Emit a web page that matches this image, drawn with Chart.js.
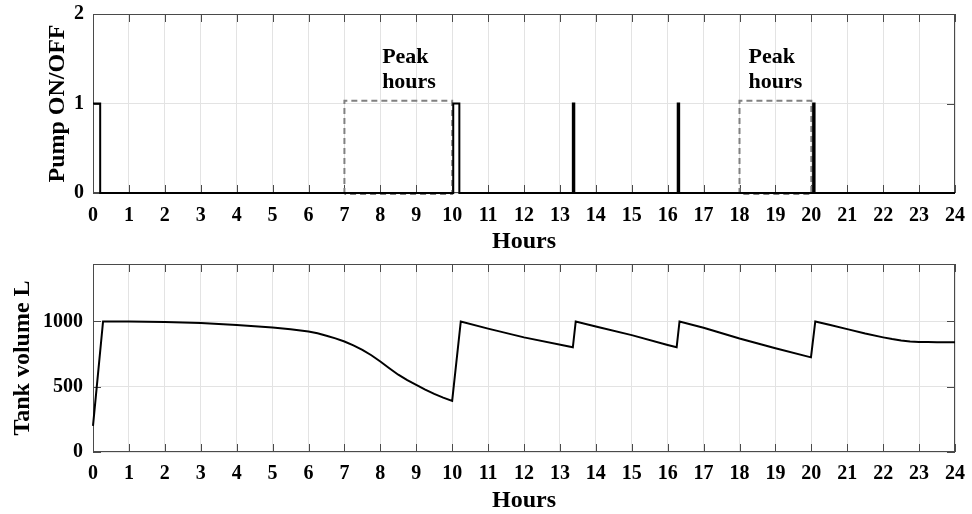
<!DOCTYPE html>
<html><head><meta charset="utf-8">
<script src="https://cdn.jsdelivr.net/npm/chart.js@4"></script>
<style>
html,body{margin:0;padding:0;overflow:hidden;background:#fff;width:972px;height:514px}
#c1{position:absolute;left:0;top:0}
#c2{position:absolute;left:0;top:254px}
</style></head><body>
<canvas id="c1" width="972" height="257"></canvas>
<canvas id="c2" width="972" height="262"></canvas>
<script>
// ---- data ----
const hourTicks = [0,1,2,3,4,5,6,7,8,9,10,11,12,13,14,15,16,17,18,19,20,21,22,23,24];
const pumpTicks = [0,1,2];
const volumeTicks = [0,500,1000];

const pumpTime  = [0, 0.2, 10.03, 10.2, 13.36, 13.40, 16.28, 16.32, 20.05, 20.09, 24];
const pumpState = [1, 0,   1,     0,    1,     0,     1,     0,     1,     0,     0];

const tankTime   = [0,0.28,1,2,3,4,4.5,5,5.5,6,6.25,6.5,6.75,7,7.25,7.5,7.75,8,8.25,8.5,8.75,9,9.25,9.5,9.75,10,10.24,11,12,13.36,13.44,14,15,16,16.25,16.33,17,18,19,19.99,20.11,20.5,21,21.5,22,22.25,22.5,22.75,23,23.25,23.5,24];
const tankVolume = [200,1000,999,996,988,972,964,954,941,923,909,891,870,846,817,783,741,693,642,592,550,514,478,445,416,391,1000,945,878,802,1000,962,895,820,802,1000,952,870,795,725,1000,974,941,907,878,865,854,847,843,842,841,841];

const peak1Time  = [7, 7, 10, 10, 7];
const peak2Time  = [18, 18, 20, 20, 18];
const peakLevel  = [-0.01, 1.03, 1.03, -0.01, -0.01];

const peakLabelTime  = [8.05, 18.25];
const peakLabelLines = ['Peak', 'hours'];
const peakLabelLevel = [1.45, 1.17];

// ---- helpers ----
const FONT = "'Liberation Serif', 'Times New Roman', serif";
Chart.defaults.font.family = FONT;
Chart.defaults.font.weight = 'bold';
Chart.defaults.color = '#000';

const pts = (xs, ys) => xs.map((v, i) => ({x: v, y: ys[i]}));

const frame = {
  id: 'frame',
  beforeDatasetsDraw(chart) {
    const {ctx, chartArea: a, scales: {x, y}} = chart;
    ctx.save();
    ctx.strokeStyle = '#4a4a4a';
    ctx.lineWidth = 1;
    ctx.strokeRect(a.left + 0.5, a.top + 0.5, a.width - 1, a.height - 1);
    const L = 8;
    ctx.beginPath();
    x.ticks.forEach(t => {
      const px = Math.round(x.getPixelForValue(t.value)) + 0.5;
      ctx.moveTo(px, a.bottom); ctx.lineTo(px, a.bottom - L);
      ctx.moveTo(px, a.top); ctx.lineTo(px, a.top + L);
    });
    y.ticks.forEach(t => {
      const py = Math.round(y.getPixelForValue(t.value)) + 0.5;
      ctx.moveTo(a.left, py); ctx.lineTo(a.left + L, py);
      ctx.moveTo(a.right, py); ctx.lineTo(a.right - L, py);
    });
    ctx.stroke();
    ctx.restore();
  }
};

const peakText = {
  id: 'peakText',
  afterDatasetsDraw(chart) {
    const {ctx, scales: {x, y}} = chart;
    ctx.save();
    ctx.font = "bold 22px " + FONT;
    ctx.fillStyle = '#000';
    ctx.textAlign = 'left';
    ctx.textBaseline = 'alphabetic';
    peakLabelTime.forEach(t => {
      peakLabelLines.forEach((line, j) => {
        ctx.fillText(line, x.getPixelForValue(t), y.getPixelForValue(peakLabelLevel[j]));
      });
    });
    ctx.restore();
  }
};

function xScale(tickPad, titlePadBottom) {
  return {
    type: 'linear', min: 0, max: 24,
    afterBuildTicks: s => { s.ticks = hourTicks.map(v => ({value: v})); },
    afterFit: s => { s.height = 64; s.paddingLeft = 0; s.paddingRight = 0; },
    grid: {color: '#e3e3e3', drawTicks: false},
    border: {display: false},
    ticks: {padding: tickPad, color: '#000', font: {size: 20, weight: 'bold'}, maxRotation: 0, autoSkip: false, callback: v => String(v)},
    title: {display: true, text: 'Hours', color: '#000', font: {size: 24, weight: 'bold'}, padding: {top: 0, bottom: titlePadBottom}}
  };
}
function yScale(min, max, tickArr, text, titlePad, tickPad) {
  return {
    type: 'linear', min: min, max: max,
    afterBuildTicks: s => { s.ticks = tickArr.map(v => ({value: v})); },
    afterFit: s => { s.width = 93; s.paddingTop = 0; s.paddingBottom = 0; },
    grid: {color: '#e3e3e3', drawTicks: false},
    border: {display: false},
    ticks: {padding: tickPad, color: '#000', font: {size: 20, weight: 'bold'}, callback: v => String(v)},
    title: {display: true, text: text, color: '#000', font: {size: 24, weight: 'bold'}, padding: {top: titlePad, bottom: 0}}
  };
}
const common = {
  responsive: false, animation: false,
  plugins: {legend: {display: false}, tooltip: {enabled: false}},
  elements: {point: {radius: 0}, line: {tension: 0}}
};

new Chart(document.getElementById('c1'), {
  type: 'line',
  data: {datasets: [
    {data: pts(pumpTime, pumpState), borderColor: '#000', borderWidth: 2, stepped: true, clip: false},
    {data: pts(peak1Time, peakLevel), borderColor: '#808080', borderWidth: 2, borderDash: [6, 4], clip: false},
    {data: pts(peak2Time, peakLevel), borderColor: '#808080', borderWidth: 2, borderDash: [6, 4], clip: false}
  ]},
  options: Object.assign({}, common, {
    layout: {padding: {left: 0, right: 17, top: 14, bottom: 0}},
    scales: {x: xScale(10.5, 1), y: yScale(0, 2, pumpTicks, 'Pump ON/OFF', 43.6, 9)}
  }),
  plugins: [frame, peakText]
});

new Chart(document.getElementById('c2'), {
  type: 'line',
  data: {datasets: [
    {data: pts(tankTime, tankVolume), borderColor: '#000', borderWidth: 2, clip: false}
  ]},
  options: Object.assign({}, common, {
    layout: {padding: {left: 0, right: 17, top: 10, bottom: 0}},
    scales: {x: xScale(9.5, 0.6), y: yScale(0, 1440, volumeTicks, 'Tank volume L', 8.6, 10)}
  }),
  plugins: [frame]
});
</script>
</body></html>
